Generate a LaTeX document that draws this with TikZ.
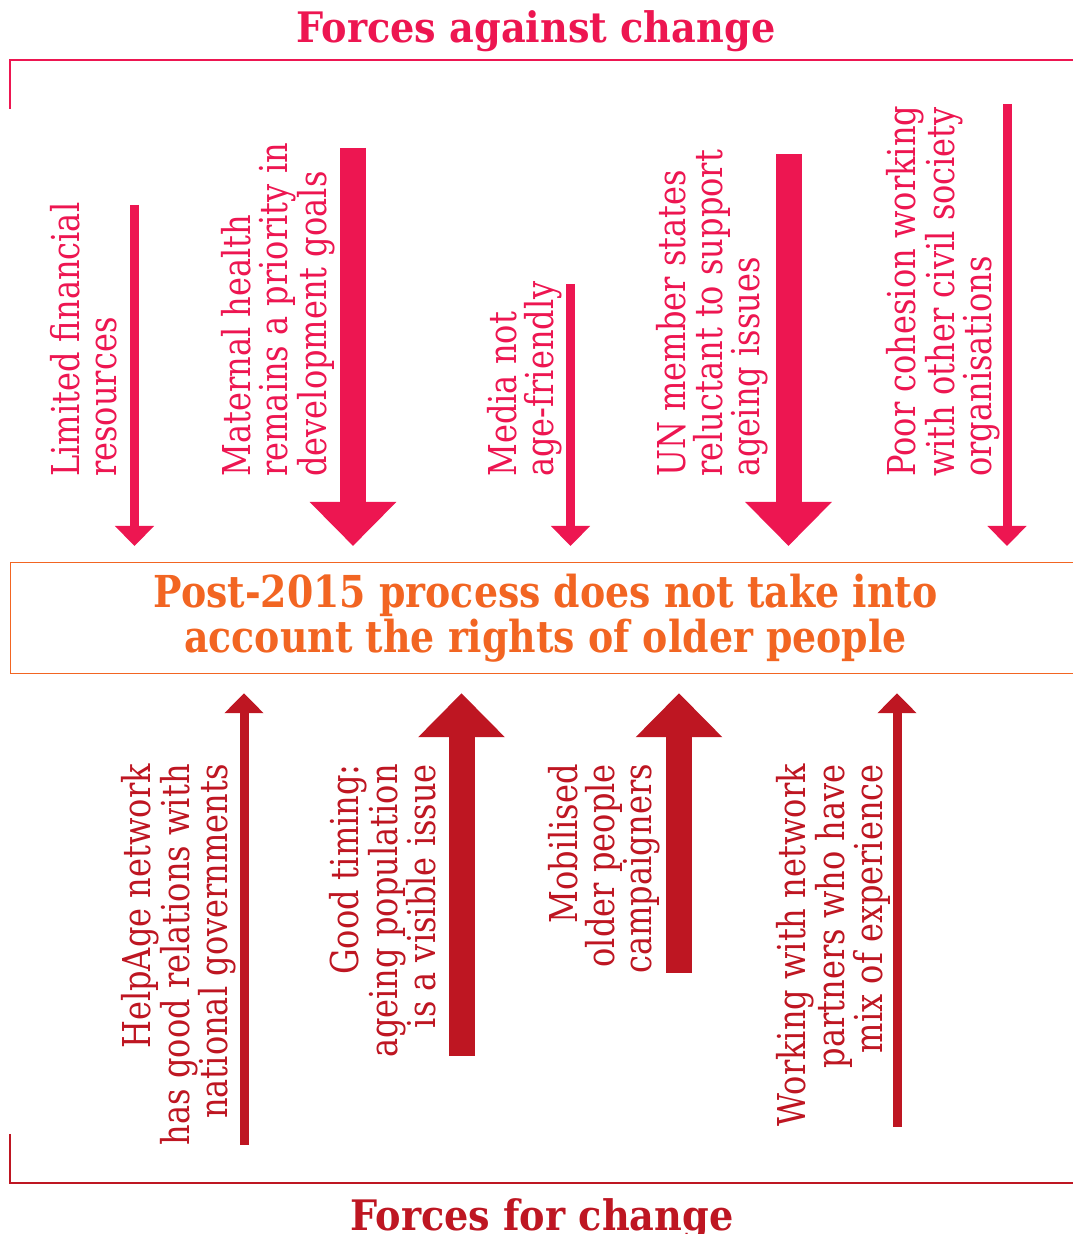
\documentclass[tikz,border=0pt]{standalone}
\usepackage{fontspec}
\setmainfont{DejaVu Serif}[FakeStretch=0.835]
\newfontfamily\headfont{DejaVu Serif}[FakeStretch=0.91]
\newfontfamily\issuefont{DejaVu Serif}[FakeStretch=0.86]
\usetikzlibrary{arrows.meta, positioning}

\definecolor{againstpink}{HTML}{ED1651}
\definecolor{forred}{HTML}{BE1622}
\definecolor{issueorange}{HTML}{F26522}

\tikzset{
  force/.style={rotate=90, inner sep=0pt, font=\fontsize{38.4}{37}\selectfont},
  againstlabel/.style={force, align=left, anchor=north west, text=againstpink},
  forlabel/.style={force, align=right, anchor=north east, text=forred},
  headline/.style={anchor=base, inner sep=0pt, font=\headfont\bfseries\fontsize{42}{42}\selectfont},
  thinarrow/.style={line width=9pt, -{Triangle[width=38pt,length=20pt]}},
  thickarrow/.style={line width=26pt, -{Triangle[width=84pt,length=44pt]}},
}

\begin{document}
\begin{tikzpicture}[x=1pt, y=1pt]
        \useasboundingbox (0,0) rectangle (1073,1234);

        % Headings and brackets
        \node[headline, text=againstpink] (against) at (536,1191) {Forces against change};
        \draw[againstpink, line width=1.2pt] (10,1125) -- (10,1174) -- (1073,1174);
        \node[headline, text=forred] (for) at (542,4) {Forces for change};
        \draw[forred, line width=1.2pt] (10,100) -- (10,51) -- (1073,51);

        % Issue box
        \node[draw=issueorange, line width=1.2pt, anchor=north west, minimum width=1070pt, minimum height=111pt,
              text=issueorange, align=center, inner sep=0pt,
              font=\issuefont\bfseries\fontsize{44}{45}\selectfont] (issue) at (10,672)
              {Post-2015 process does not take into\\account the rights of older people};

        % Forces against change
        \node[againstlabel] (limited) at (50,757) {Limited financial\\resources};
        \node[againstlabel] (maternal) at (221,757) {Maternal health\\remains a priority in\\development goals};
        \node[againstlabel] (media) at (487,757) {Media not\\age-friendly};
        \node[againstlabel] (unstates) at (656,757) {UN member states\\reluctant to support\\ageing issues};
        \node[againstlabel] (cohesion) at (886,757) {Poor cohesion working\\with other civil society\\organisations};

        \coordinate (a1) at (134.5,1029);
        \coordinate (a2) at (353,1086);
        \coordinate (a3) at (570.5,950);
        \coordinate (a4) at (788.5,1080);
        \coordinate (a5) at (1007,1130);
        \draw[thinarrow, againstpink, shorten >=16pt] (a1) -- (a1 |- issue.north);
        \draw[thickarrow, againstpink, shorten >=16pt] (a2) -- (a2 |- issue.north);
        \draw[thinarrow, againstpink, shorten >=16pt] (a3) -- (a3 |- issue.north);
        \draw[thickarrow, againstpink, shorten >=16pt] (a4) -- (a4 |- issue.north);
        \draw[thinarrow, againstpink, shorten >=16pt] (a5) -- (a5 |- issue.north);

        % Forces for change
        \node[forlabel] (helpage) at (121,470) {HelpAge network\\has good relations with\\national governments};
        \node[forlabel] (timing) at (329,470) {Good timing:\\ageing population\\is a visible issue};
        \node[forlabel] (mobilised) at (548,470) {Mobilised\\older people\\campaigners};
        \node[forlabel] (partners) at (776,470) {Working with network\\partners who have\\mix of experience};

        \coordinate (f1) at (244,89);
        \coordinate (f2) at (461.5,178);
        \coordinate (f3) at (679,261);
        \coordinate (f4) at (897,107);
        \draw[thinarrow, forred, shorten >=19pt] (f1) -- (f1 |- issue.south);
        \draw[thickarrow, forred, shorten >=19pt] (f2) -- (f2 |- issue.south);
        \draw[thickarrow, forred, shorten >=19pt] (f3) -- (f3 |- issue.south);
        \draw[thinarrow, forred, shorten >=19pt] (f4) -- (f4 |- issue.south);
\end{tikzpicture}
\end{document}
